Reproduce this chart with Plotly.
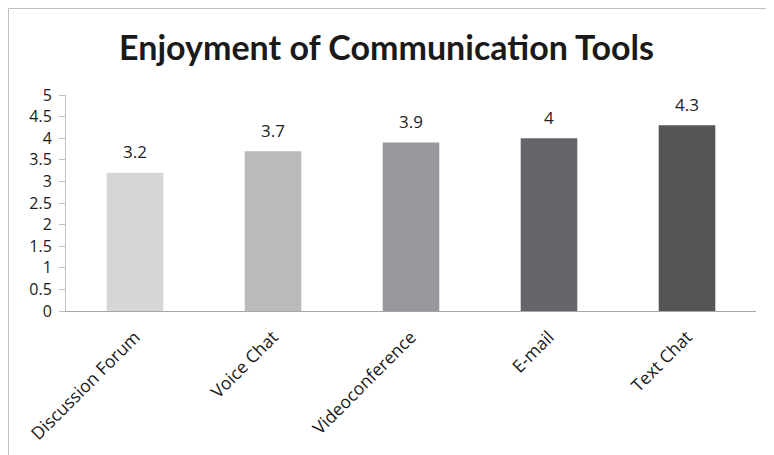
import plotly.graph_objects as go

categories = ["Discussion Forum", "Voice Chat", "Videoconference", "E-mail", "Text Chat"]
values = [3.2, 3.7, 3.9, 4, 4.3]
value_labels = ["3.2", "3.7", "3.9", "4", "4.3"]
bar_colors = ["#d5d6d8", "#b9babc", "#97989b", "#646569", "#545557"]
y_ticks = [0, 0.5, 1, 1.5, 2, 2.5, 3, 3.5, 4, 4.5, 5]
y_tick_labels = ["0", "0.5", "1", "1.5", "2", "2.5", "3", "3.5", "4", "4.5", "5"]

fig = go.Figure(go.Bar(
    x=categories, y=values,
    marker=dict(color=bar_colors, line=dict(width=0)),
    width=0.41,
))

for c, v, t in zip(categories, values, value_labels):
    fig.add_annotation(x=c, y=v, text=t, showarrow=False, yshift=21,
                       font=dict(family="Open Sans", size=17, color="#222222"))

fig.update_layout(
    width=774, height=455,
    margin=dict(l=58, r=26, t=87, b=152),
    paper_bgcolor="white", plot_bgcolor="white",
    showlegend=False,
    title=dict(text="<b>Enjoyment of Communication Tools</b>", x=0.489, xanchor="center",
               xref="container", y=0.912, yanchor="middle",
               font=dict(family="Lato", size=34, color="#1a1a1a")),
    font=dict(family="Open Sans", size=17, color="#1a1a1a"),
)
fig.update_xaxes(showline=True, linecolor="#a6a6a6", linewidth=1, ticks="", tickangle=-45,
                 ticklabelstandoff=8,
                 tickfont=dict(family="Open Sans", size=17.5, color="#1a1a1a"))
fig.update_yaxes(range=[0, 5], tickvals=y_ticks, ticktext=y_tick_labels, showgrid=False,
                 showline=True, linecolor="#bfbfbf", linewidth=1, ticks="outside", ticklen=6,
                 tickcolor="#bfbfbf", zeroline=False, ticklabelstandoff=4,
                 tickfont=dict(family="Open Sans", size=16, color="#1a1a1a"))

# chart border
fig.add_shape(type="rect", xref="paper", yref="paper",
              x0=-57.5/690, x1=800/690, y0=-200/216, y1=(303 - 0.5)/216,
              line=dict(color="#bfbfbf", width=1), fillcolor="rgba(0,0,0,0)", layer="below")

fig.write_html("out.html")
